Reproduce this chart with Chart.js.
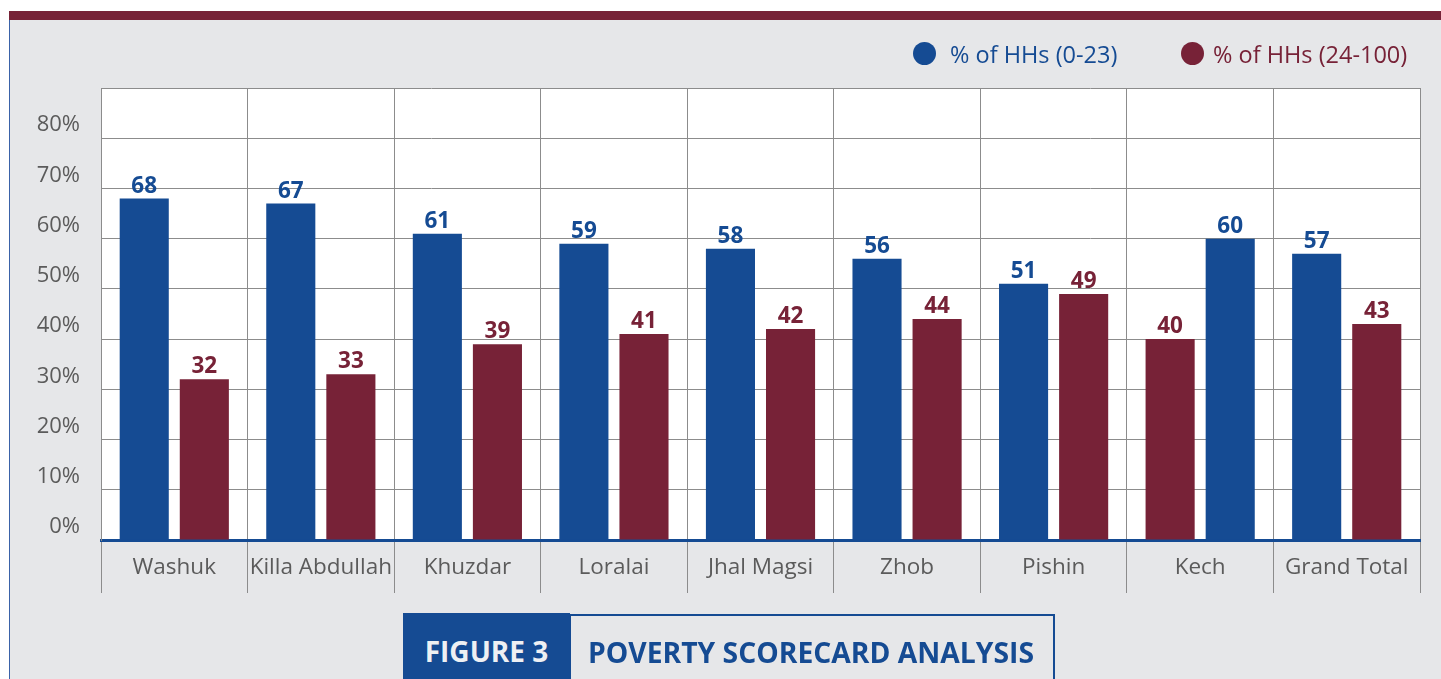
<!DOCTYPE html>
<html>
<head>
<meta charset="utf-8">
<script src="https://cdn.jsdelivr.net/npm/chart.js@4.4.1/dist/chart.umd.min.js"></script>
<style>
  body { margin: 0; background: #fff; font-family: "Open Sans", sans-serif; }
  #wrap { position: relative; width: 1441px; height: 679px; overflow: hidden; }
  .topbar { position: absolute; left: 9px; top: 11px; width: 1432px; height: 9px; background: #772237; }
  .panel { position: absolute; left: 9px; top: 20px; width: 1432px; height: 659px; background: #e6e7e9; border-left: 1px solid #3a62a8; box-sizing: border-box; }
  canvas { position: absolute; left: 0; top: 0; }
  .legend { position: absolute; top: 38px; font-size: 23.5px; white-space: nowrap; }
  .legend span.dot { position: absolute; top: 4px; width: 23px; height: 23px; border-radius: 50%; }
  .fig { position: absolute; left: 403px; top: 613px; width: 167px; height: 70px; background: #154b93; color: #eef0f3; font-weight: 700; font-size: 28px; line-height: 76px; text-align: center; }
  .title { position: absolute; left: 569px; top: 614px; width: 486px; height: 70px; border: 2px solid #154b93; box-sizing: border-box; color: #154b93; font-weight: 700; font-size: 28.3px; line-height: 72px; padding-left: 17px; }
</style>
</head>
<body>
<div id="wrap">
  <div class="topbar"></div>
  <div class="panel"></div>
  <canvas id="povertyChart" width="1441" height="679"></canvas>
  <div id="legend"></div>
  <div class="fig">FIGURE 3</div>
  <div class="title">POVERTY SCORECARD ANALYSIS</div>
</div>
<script>
const categories = ['Washuk', 'Killa Abdullah', 'Khuzdar', 'Loralai', 'Jhal Magsi', 'Zhob', 'Pishin', 'Kech', 'Grand Total'];
const seriesNames = ['% of HHs (0-23)', '% of HHs (24-100)'];
const lowScore = [68, 67, 61, 59, 58, 56, 51, 60, 57];
const highScore = [32, 33, 39, 41, 42, 44, 49, 40, 43];
// in the source the bar order is flipped for these districts
const redFirst = ['Kech'];
const yTicks = [0, 10, 20, 30, 40, 50, 60, 70, 80];

const BLUE = '#154b93';
const MAROON = '#772237';
const GRID = '#8c8c8c';
const TEXT = '#5b5b5b';

// legend (html, placed like the source)
const legendEl = document.getElementById('legend');
[[seriesNames[0], BLUE, 913, 950], [seriesNames[1], MAROON, 1181, 1213]].forEach(([name, color, dotX, textX]) => {
    const dot = document.createElement('div');
    dot.className = 'legend';
    dot.style.left = dotX + 'px';
    dot.innerHTML = '<span class="dot" style="background:' + color + '"></span>';
    legendEl.appendChild(dot);
    const txt = document.createElement('div');
    txt.className = 'legend';
    txt.style.left = textX + 'px';
    txt.style.color = color;
    txt.textContent = name;
    legendEl.appendChild(txt);
});

const leftValues = categories.map((c, i) => redFirst.includes(c) ? highScore[i] : lowScore[i]);
const rightValues = categories.map((c, i) => redFirst.includes(c) ? lowScore[i] : highScore[i]);
const leftColors = categories.map(c => redFirst.includes(c) ? MAROON : BLUE);
const rightColors = categories.map(c => redFirst.includes(c) ? BLUE : MAROON);

const plotBackground = {
    id: 'plotBackground',
    beforeDraw(chart) {
        const { ctx, chartArea } = chart;
        ctx.save();
        ctx.fillStyle = '#ffffff';
        ctx.fillRect(chartArea.left, chartArea.top, chartArea.right - chartArea.left, chartArea.bottom - chartArea.top);
        ctx.restore();
    }
};

const valueLabels = {
    id: 'valueLabels',
    afterDatasetsDraw(chart) {
        const { ctx } = chart;
        ctx.save();
        ctx.font = 'bold 22.5px "Open Sans"';
        ctx.textAlign = 'center';
        ctx.textBaseline = 'bottom';
        chart.data.datasets.forEach((ds, di) => {
            chart.getDatasetMeta(di).data.forEach((bar, i) => {
                ctx.fillStyle = ds.backgroundColor[i];
                ctx.fillText(ds.data[i], bar.x, bar.y - 1);
            });
        });
        ctx.restore();
    }
};

new Chart(document.getElementById('povertyChart').getContext('2d'), {
    type: 'bar',
    data: {
        labels: categories,
        datasets: [{
            data: leftValues,
            backgroundColor: leftColors,
            borderWidth: 0
        }, {
            data: rightValues,
            backgroundColor: rightColors,
            borderWidth: 0
        }]
    },
    options: {
        responsive: false,
        animation: false,
        categoryPercentage: 0.82,
        barPercentage: 0.817,
        layout: { padding: { top: 88, right: 21, left: 0, bottom: 0 } },
        plugins: {
            legend: { display: false },
            tooltip: { enabled: false }
        },
        scales: {
            x: {
                grid: { color: GRID, lineWidth: 1, offset: true, tickLength: 53 },
                border: { color: BLUE, width: 3 },
                ticks: { color: TEXT, font: { family: 'Open Sans', size: 22.5 }, padding: -39, maxRotation: 0, autoSkip: false },
                afterFit(scale) { scale.height = 139; }
            },
            y: {
                min: 0,
                max: 90,
                afterBuildTicks(scale) {
                    scale.ticks = yTicks.concat([90]).map(v => ({ value: v }));
                },
                grid: { color: GRID, lineWidth: 1, drawTicks: false },
                border: { color: GRID, width: 1 },
                ticks: {
                    color: TEXT,
                    font: { family: 'Open Sans', size: 22 },
                    padding: 21,
                    labelOffset: -13,
                    callback: v => yTicks.includes(v) ? v + '%' : ''
                },
                afterFit(scale) { scale.width = 101; }
            }
        }
    },
    plugins: [plotBackground, valueLabels]
});
</script>
</body>
</html>
